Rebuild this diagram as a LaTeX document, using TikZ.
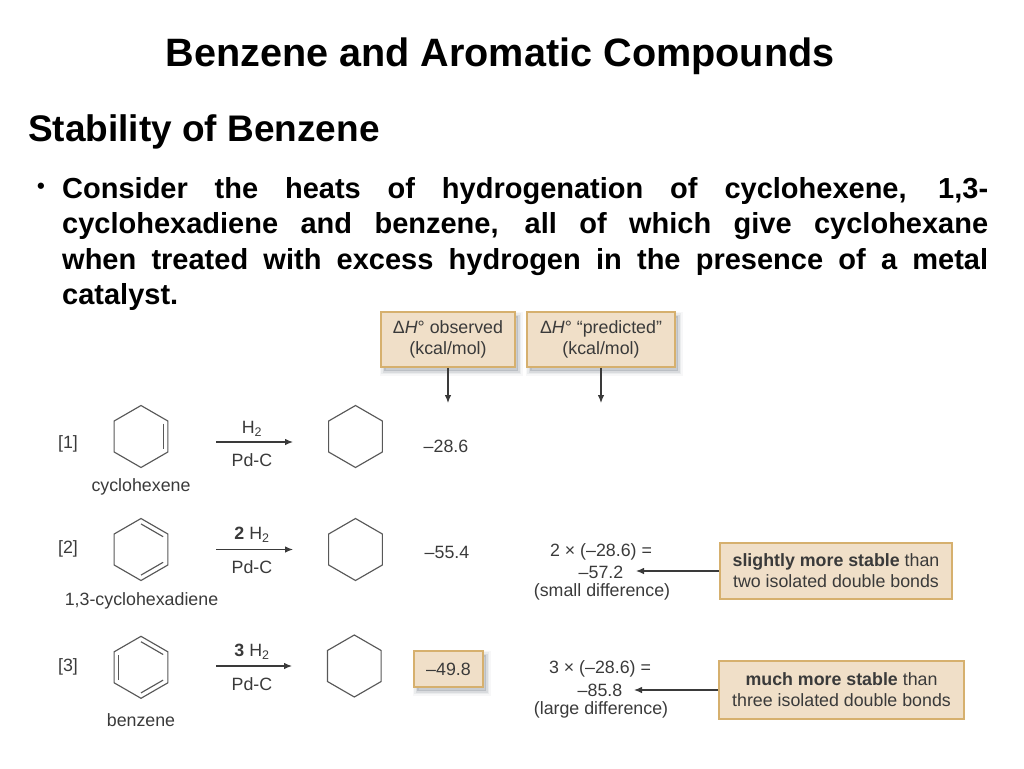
\documentclass[tikz,border=0pt]{standalone}
\usepackage{fontspec}
\setmainfont{Liberation Sans}
\usetikzlibrary{calc,arrows.meta}
\definecolor{boxfill}{HTML}{F0DFC8}
\definecolor{boxedge}{HTML}{D6B06E}
\definecolor{inkc}{HTML}{3A3A3A}
\definecolor{shadowc}{HTML}{5A6470}
\tikzset{
  softshadow/.style={
    preaction={draw=shadowc,fill=shadowc,line width=9pt,opacity=.05,transform canvas={shift={(3pt,-4pt)}}},
    preaction={draw=shadowc,fill=shadowc,line width=6pt,opacity=.08,transform canvas={shift={(3pt,-4pt)}}},
    preaction={draw=shadowc,fill=shadowc,line width=3pt,opacity=.12,transform canvas={shift={(3pt,-4pt)}}}
  },
  tanbox/.style={draw=boxedge,fill=boxfill,line width=1.6pt,inner sep=0pt,align=center,text=inkc,font=\fontsize{17.8}{21}\selectfont},
  chem/.style={text=inkc,font=\fontsize{17.8}{20.5}\selectfont,inner sep=0pt,align=center},
  bond/.style={draw=inkc!85,line width=1.15pt,line join=miter},
  rxn/.style={draw=inkc,line width=1.1pt,-{Latex[length=8pt,width=6.5pt]}},
  callout/.style={draw=inkc,line width=1.1pt,-{Latex[length=8pt,width=6.5pt]}},
  titletext/.style={font=\bfseries\fontsize{39.6}{46}\selectfont,text=black,inner sep=0pt},
  headtext/.style={font=\bfseries\fontsize{37}{44}\selectfont,text=black,inner sep=0pt,anchor=west},
  bodytext/.style={font=\bfseries\fontsize{29}{35.5}\selectfont,text=black,inner sep=0pt,text width=926pt,align=justify,anchor=north west}
}
% ring: name, x, y (pixels)
\newcommand{\hexring}[3]{%
  \coordinate (#1) at (#2,#3);
  \foreach \ang/\idx in {90/1,30/2,-30/3,-90/4,-150/5,150/6}{
    \coordinate (#1-\idx) at ($(#1)+(\ang:31pt and 31pt)$);
  }
  \draw[bond] (#1-1)--(#1-2)--(#1-3)--(#1-4)--(#1-5)--(#1-6)--cycle;
}
\newcommand{\dbond}[3]{%
  \draw[bond] ($(#1)!.825!(#1-#2)$)--($(#1)!.825!(#1-#3)$);
}
\begin{document}
\begin{tikzpicture}[x=1pt,y=-1pt]
\useasboundingbox (0,0) rectangle (1024,768);

\node[titletext] (title) at (500,56) {Benzene and Aromatic Compounds};
\node[headtext] (head) at (28,132) {Stability of Benzene};
\node[font=\bfseries\fontsize{22}{30}\selectfont,inner sep=0pt] (bullet) at (41,188) {•};
\node[bodytext] (body) at (62,177) {Consider the heats of hydrogenation of cyclohexene, 1,3-\linebreak
cyclohexadiene and benzene, all of which give cyclohexane\linebreak
when treated with excess hydrogen in the presence of a metal\linebreak
catalyst.};

% header boxes
\node[tanbox,softshadow,minimum width=134pt,minimum height=55pt] (obs) at (448,339.5) {Δ\textit{H}° observed\\(kcal/mol)};
\node[tanbox,softshadow,minimum width=148pt,minimum height=55pt] (pred) at (601,339.5) {Δ\textit{H}° “predicted”\\(kcal/mol)};
\coordinate (obsend) at (448,403);
\coordinate (predend) at (601,403);
\draw[callout] (obs.south) -- (obsend);
\draw[callout] (pred.south) -- (predend);

% row 1
\node[chem] (n1) at (68,443.5) {[1]};
\hexring{ra}{141}{436.5}
\dbond{ra}{2}{3}
\node[chem] (la) at (141,487) {cyclohexene};
\coordinate (a1s) at (216,442); \coordinate (a1e) at (293,442);
\draw[rxn] (a1s) -- (a1e);
\node[chem] (h1) at (252,429) {H\textsubscript{2}};
\node[chem] (p1) at (252,460) {Pd-C};
\hexring{pa}{355.5}{436.5}
\node[chem] (v1) at (446,446) {–28.6};

% row 2
\node[chem] (n2) at (68,549) {[2]};
\hexring{rb}{141}{549.5}
\dbond{rb}{1}{2}
\dbond{rb}{3}{4}
\node[chem] (lb) at (141.5,601) {1,3-cyclohexadiene};
\coordinate (a2s) at (216,549.5); \coordinate (a2e) at (293,549.5);
\draw[rxn] (a2s) -- (a2e);
\node[chem] (h2) at (252,535) {\textbf{2} H\textsubscript{2}};
\node[chem] (p2) at (252,567) {Pd-C};
\hexring{pb}{355.5}{549.5}
\node[chem] (v2) at (447,552) {–55.4};
\node[chem] (e21) at (601,552) {2 × (–28.6) =};
\node[chem] (e22) at (601,572) {–57.2};
\node[chem] (e23) at (602,592) {(small difference)};
\node[tanbox,minimum width=232pt,minimum height=56pt] (slight) at (836,571) {\textbf{slightly more stable} than\\two isolated double bonds};
\coordinate (slightend) at (636,571);
\draw[callout] (slight.west) -- (slightend);

% row 3
\node[chem] (n3) at (68,667) {[3]};
\hexring{rc}{141}{667.3}
\dbond{rc}{1}{2}
\dbond{rc}{3}{4}
\dbond{rc}{5}{6}
\node[chem] (lc) at (141,720) {benzene};
\coordinate (a3s) at (216,666); \coordinate (a3e) at (292,666);
\draw[rxn] (a3s) -- (a3e);
\node[chem] (h3) at (252,652) {\textbf{3} H\textsubscript{2}};
\node[chem] (p3) at (252,684) {Pd-C};
\hexring{pc}{354.3}{666}
\node[tanbox,softshadow,minimum width=69pt,minimum height=36pt] (v3) at (448.5,669) {–49.8};
\node[chem] (e31) at (600,669) {3 × (–28.6) =};
\node[chem] (e32) at (600,690) {–85.8};
\node[chem] (e33) at (601,710) {(large difference)};
\node[tanbox,minimum width=245pt,minimum height=58pt] (much) at (841.5,690) {\textbf{much more stable} than\\three isolated double bonds};
\coordinate (muchend) at (634,690);
\draw[callout] (much.west) -- (muchend);
\end{tikzpicture}
\end{document}
